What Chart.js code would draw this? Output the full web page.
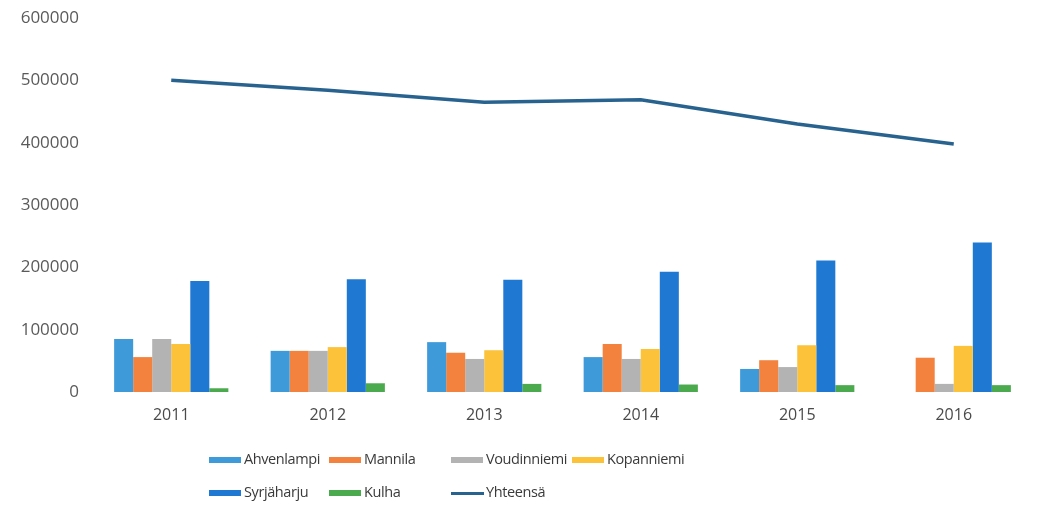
<!DOCTYPE html>
<html><head><meta charset="utf-8">
<script src="https://cdn.jsdelivr.net/npm/chart.js@4"></script>
<style>
html,body{margin:0;padding:0;background:#fff;}
#wrap{position:relative;width:1050px;height:524px;}
canvas{position:absolute;left:0;top:0;}
.lg{position:absolute;font-family:"Open Sans",sans-serif;font-size:14.5px;letter-spacing:-0.4px;color:#3a3a3a;line-height:18px;white-space:nowrap;}
.sw{position:absolute;width:32px;height:6px;}
.ln{position:absolute;width:33px;height:3px;}
</style></head>
<body><div id="wrap"><canvas id="c" width="1050" height="524"></canvas><div id="legend"></div></div>
<script>
const categories = ["2011","2012","2013","2014","2015","2016"];
const ahvenlampi  = [85000, 66000, 80000, 56000, 37000, 0];
const mannila     = [56000, 66000, 63000, 77000, 51000, 55000];
const voudinniemi = [85000, 66000, 53000, 53000, 40000, 13000];
const kopanniemi  = [77000, 72000, 67000, 69000, 75000, 74000];
const syrjaharju  = [178000, 181000, 180000, 193000, 211000, 240000];
const kulha       = [6000, 14000, 13000, 12000, 11000, 11000];
const yhteensa    = [500000, 484000, 465000, 469000, 430000, 398000];
const yTicks = [0, 100000, 200000, 300000, 400000, 500000, 600000];

const colors = {
  ahv:"#3f9ad9", man:"#f4823f", vou:"#b3b3b3", kop:"#fbc23a", syr:"#1f78d2", kul:"#4caa4e", yht:"#28628f"
};

const bars = [
  ["Ahvenlampi", ahvenlampi, colors.ahv],
  ["Mannila", mannila, colors.man],
  ["Voudinniemi", voudinniemi, colors.vou],
  ["Kopanniemi", kopanniemi, colors.kop],
  ["Syrjäharju", syrjaharju, colors.syr],
  ["Kulha", kulha, colors.kul]
];

const datasets = [{
  type:"line", label:"Yhteensä", data:yhteensa, borderColor:colors.yht, backgroundColor:colors.yht,
  borderWidth:3.5, pointRadius:0, tension:0, order:0
}].concat(bars.map(b => ({
  type:"bar", label:b[0], data:b[1], backgroundColor:b[2], borderWidth:0,
  barPercentage:1.0, categoryPercentage:0.73, order:1
})));

new Chart(document.getElementById("c"), {
  data:{labels:categories, datasets:datasets},
  options:{
    responsive:false, animation:false,
    layout:{padding:{top:18,right:18,bottom:94,left:0}},
    plugins:{legend:{display:false}, tooltip:{enabled:false}},
    scales:{
      x:{
        grid:{display:false, drawTicks:false}, border:{display:false},
        ticks:{color:"#4a4a4a", font:{family:"Open Sans", size:16}, padding:14},
        afterFit:s=>{s.height=38; s.paddingLeft=0; s.paddingRight=0;}
      },
      y:{
        min:0, max:600000,
        grid:{display:false, drawTicks:false}, border:{display:false},
        ticks:{stepSize:100000, color:"#5a5a5a", font:{family:"Open Sans", size:17}, padding:14,
          callback:v=>yTicks.includes(v)?String(v):""},
        afterFit:s=>{s.width=93; s.paddingTop=0; s.paddingBottom=0;}
      }
    }
  }
});

const legendItems = [
  ["Ahvenlampi", colors.ahv, 209, 460, "box"],
  ["Mannila", colors.man, 329, 460, "box"],
  ["Voudinniemi", colors.vou, 451, 460, "box"],
  ["Kopanniemi", colors.kop, 572, 460, "box"],
  ["Syrjäharju", colors.syr, 209, 493, "box"],
  ["Kulha", colors.kul, 329, 493, "box"],
  ["Yhteensä", colors.yht, 451, 493, "line"]
];
const lg = document.getElementById("legend");
legendItems.forEach(it=>{
  const m = document.createElement("div");
  m.className = it[4]==="box" ? "sw" : "ln";
  m.style.background = it[1];
  m.style.left = it[2]+"px";
  m.style.top = (it[3] - (it[4]==="box"?3:1.5))+"px";
  lg.appendChild(m);
  const t = document.createElement("div");
  t.className="lg"; t.textContent = it[0];
  t.style.left = (it[2]+35)+"px"; t.style.top = (it[3]-10)+"px";
  lg.appendChild(t);
});
</script></body></html>
